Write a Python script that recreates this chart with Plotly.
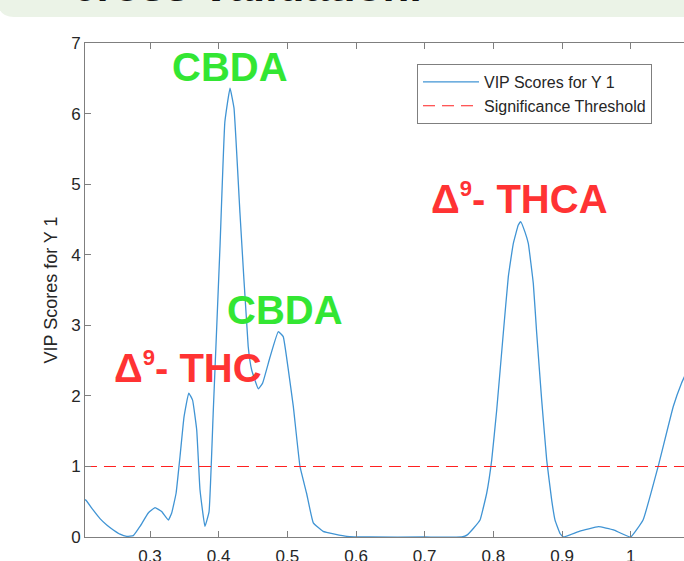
import plotly.graph_objects as go

# ---- data ----
x_vals = [0.2053, 0.2068, 0.2174, 0.2272, 0.237, 0.2466, 0.2563, 0.2661, 0.2757, 0.2854,
          0.2975, 0.3073, 0.317, 0.3267, 0.3316, 0.338, 0.3437, 0.3495, 0.3564, 0.362,
          0.368, 0.3728, 0.380, 0.386, 0.392, 0.402, 0.409, 0.4165, 0.4223, 0.431,
          0.443, 0.448, 0.4577, 0.464, 0.4748, 0.4868, 0.494, 0.501, 0.5087, 0.5184,
          0.528, 0.5378, 0.552, 0.5865, 0.62, 0.70, 0.754, 0.762, 0.7708, 0.7806,
          0.7903, 0.7976, 0.8049, 0.8145, 0.8218, 0.8291, 0.8363, 0.8398, 0.8461, 0.8509,
          0.8582, 0.8631, 0.8704, 0.8777, 0.8850, 0.8898, 0.8971, 0.9019, 0.925, 0.953,
          0.975, 1.0, 1.018, 1.040, 1.062, 1.074, 1.082]
vip_scores = [0.53, 0.52, 0.38, 0.26, 0.17, 0.10, 0.04, 0.01, 0.02, 0.15,
              0.34, 0.415, 0.36, 0.24, 0.34, 0.62, 1.14, 1.70, 2.04, 1.94,
              1.52, 0.67, 0.15, 0.36, 1.75, 4.13, 5.88, 6.36, 6.08, 4.59,
              2.70, 2.37, 2.10, 2.18, 2.55, 2.91, 2.84, 2.40, 1.85, 1.00,
              0.62, 0.20, 0.08, 0.01, 0.0, 0.0, 0.0, 0.03, 0.12, 0.24,
              0.62, 1.09, 1.80, 2.89, 3.69, 4.16, 4.42, 4.47, 4.32, 4.16,
              3.59, 2.89, 1.94, 1.09, 0.52, 0.24, 0.05, 0.0, 0.08, 0.146,
              0.10, 0.0, 0.24, 1.0, 1.85, 2.18, 2.35]
threshold = 1.0
x_ticks = [0.3, 0.4, 0.5, 0.6, 0.7, 0.8, 0.9, 1.0]
x_tick_labels = ["0.3", "0.4", "0.5", "0.6", "0.7", "0.8", "0.9", "1"]
y_ticks = [0, 1, 2, 3, 4, 5, 6, 7]
series_names = ["VIP Scores for Y 1", "Significance Threshold"]
SUP9 = '<sup><span style="font-size:22px">9</span></sup>'
peak_labels = ["CBDA", "CBDA", f"Δ{SUP9}- THC", f"Δ{SUP9}- THCA"]
banner_text = "cross-validation."

FONT = "Liberation Sans, Arial, sans-serif"
GREEN = "#33E633"
RED = "#FF3333"

fig = go.Figure()
fig.add_trace(go.Scatter(
    x=x_vals, y=vip_scores, mode="lines", name=series_names[0],
    line=dict(color="#4094d4", width=1.3, shape="spline", smoothing=0.3),
))
fig.add_trace(go.Scatter(
    x=[min(x_vals), max(x_vals)], y=[threshold, threshold], mode="lines",
    name=series_names[1],
    line=dict(color="#FF2020", width=1.1, dash="12px,7px"),
))

# plot area: x 85..684 px, y 43..537 px
x0 = 0.3 - 65 / 686.7
x1 = 0.3 + 534 / 686.7

axis_common = dict(
    showline=True, linecolor="#7f7f7f", linewidth=1,
    ticks="inside", tickcolor="#7f7f7f", ticklen=6,
    showgrid=False, zeroline=False, automargin=False,
    tickfont=dict(family=FONT, size=17, color="#262626"),
)
fig.update_xaxes(range=[x0, x1], tickvals=x_ticks, ticktext=x_tick_labels,
                 mirror="ticks", ticklabelstandoff=4, **axis_common)
fig.update_yaxes(range=[0, 7], tickvals=y_ticks, mirror=False,
                 title=dict(text="VIP Scores for Y 1", standoff=8,
                            font=dict(family=FONT, size=18, color="#262626")),
                 **axis_common)


def px2paper_x(px):
    return (px - 85) / 599


def px2paper_y(py):
    return (537 - py) / 494


# top banner (partially visible slide header)
bl = px2paper_x(-2)
br = px2paper_x(690)
bt = px2paper_y(-6)
bb = px2paper_y(17)
rx = 16 / 599
ry = 16 / 494
fig.add_shape(
    type="path", xref="paper", yref="paper", layer="below",
    path=f"M {bl},{bt} L {br},{bt} L {br},{bb} L {bl+rx},{bb} Q {bl},{bb} {bl},{bb+ry} Z",
    fillcolor="#EBF3E7", line=dict(width=0),
)
fig.add_annotation(
    text=f"<b>{banner_text}</b>", xref="paper", yref="paper",
    x=px2paper_x(70), y=px2paper_y(12), xanchor="left", yanchor="bottom",
    showarrow=False, font=dict(family=FONT, size=44, color="#111111"),
)

# peak labels
label_pos = [(0.4172, 6.66, GREEN), (0.4966, 3.21, GREEN),
             (0.3553, 2.40, RED), (0.8388, 4.80, RED)]
for txt, (lx, ly, col) in zip(peak_labels, label_pos):
    fig.add_annotation(
        text=f"<b>{txt}</b>", x=lx, y=ly, xanchor="center", yanchor="middle",
        showarrow=False, font=dict(family=FONT, size=40, color=col),
    )

fig.update_layout(
    width=684, height=561,
    margin=dict(l=85, r=0, t=43, b=24),
    paper_bgcolor="white", plot_bgcolor="white",
    showlegend=True,
    legend=dict(
        x=px2paper_x(417), y=px2paper_y(64), xanchor="left", yanchor="top",
        bordercolor="#7f7f7f", borderwidth=1, bgcolor="white",
        font=dict(family=FONT, size=16, color="#262626"),
        itemwidth=56, tracegroupgap=0,
    ),
)

fig.write_html(
    "out.html",
    config={"displayModeBar": False},
    post_script="document.body.style.margin='0';document.body.style.overflow='hidden';",
)
